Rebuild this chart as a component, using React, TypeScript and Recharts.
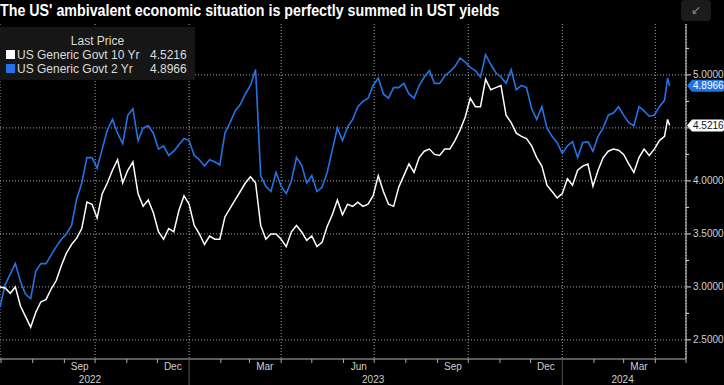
import React from 'react'
import { LineChart, Line, XAxis, YAxis, CartesianGrid, ReferenceLine, Legend } from 'recharts'

// values, roughly every 5 days
const START = '2022-06-30'
const END = '2024-05-01'

const dates = [
  '2022-06-30', '2022-07-05', '2022-07-10', '2022-07-15', '2022-07-20', '2022-07-25', '2022-07-30',
  '2022-08-04', '2022-08-09', '2022-08-14', '2022-08-19', '2022-08-24', '2022-08-29',
  '2022-09-03', '2022-09-08', '2022-09-13', '2022-09-18', '2022-09-23', '2022-09-28',
  '2022-10-03', '2022-10-08', '2022-10-13', '2022-10-18', '2022-10-23', '2022-10-28',
  '2022-11-02', '2022-11-07', '2022-11-12', '2022-11-17', '2022-11-22', '2022-11-27',
  '2022-12-02', '2022-12-07', '2022-12-12', '2022-12-17', '2022-12-22', '2022-12-27',
  '2023-01-01', '2023-01-06', '2023-01-11', '2023-01-16', '2023-01-21', '2023-01-26', '2023-01-31',
  '2023-02-05', '2023-02-10', '2023-02-15', '2023-02-20', '2023-02-25',
  '2023-03-02', '2023-03-07', '2023-03-12', '2023-03-17', '2023-03-22', '2023-03-27',
  '2023-04-01', '2023-04-06', '2023-04-11', '2023-04-16', '2023-04-21', '2023-04-26',
  '2023-05-01', '2023-05-06', '2023-05-11', '2023-05-16', '2023-05-21', '2023-05-26', '2023-05-31',
  '2023-06-05', '2023-06-10', '2023-06-15', '2023-06-20', '2023-06-25', '2023-06-30',
  '2023-07-05', '2023-07-10', '2023-07-15', '2023-07-20', '2023-07-25', '2023-07-30',
  '2023-08-04', '2023-08-09', '2023-08-14', '2023-08-19', '2023-08-24', '2023-08-29',
  '2023-09-03', '2023-09-08', '2023-09-13', '2023-09-18', '2023-09-23', '2023-09-28',
  '2023-10-03', '2023-10-08', '2023-10-13', '2023-10-18', '2023-10-23', '2023-10-28',
  '2023-11-02', '2023-11-07', '2023-11-12', '2023-11-17', '2023-11-22', '2023-11-27',
  '2023-12-02', '2023-12-07', '2023-12-12', '2023-12-17', '2023-12-22', '2023-12-27',
  '2024-01-01', '2024-01-06', '2024-01-11', '2024-01-16', '2024-01-21', '2024-01-26', '2024-01-31',
  '2024-02-05', '2024-02-10', '2024-02-15', '2024-02-20', '2024-02-25',
  '2024-03-01', '2024-03-06', '2024-03-11', '2024-03-16', '2024-03-21', '2024-03-26', '2024-03-31',
  '2024-04-05', '2024-04-10', '2024-04-13', '2024-04-15',
]

// US Generic Govt 10 Yr
const tenYear = [
  3.00, 2.99, 2.94, 3.00, 2.82, 2.72, 2.62,
  2.76, 2.86, 2.88, 2.98, 3.06, 3.20,
  3.32, 3.40, 3.46, 3.55, 3.80, 3.78,
  3.65, 3.88, 3.98, 4.10, 4.20, 3.98,
  4.10, 4.18, 3.88, 3.76, 3.82, 3.70,
  3.52, 3.45, 3.55, 3.52, 3.72, 3.86,
  3.78, 3.58, 3.50, 3.40, 3.48, 3.45, 3.45,
  3.66, 3.74, 3.82, 3.90, 3.98,
  4.04, 3.98, 3.58, 3.45, 3.50, 3.50,
  3.45, 3.38, 3.52, 3.58, 3.52, 3.44,
  3.48, 3.38, 3.42, 3.57, 3.68, 3.82, 3.68,
  3.78, 3.76, 3.80, 3.76, 3.78, 3.86,
  4.05, 3.90, 3.78, 3.76, 3.94, 4.05,
  4.16, 4.08, 4.22, 4.28, 4.30, 4.25,
  4.24, 4.30, 4.30, 4.38, 4.48, 4.60,
  4.78, 4.70, 4.70, 4.96, 4.86, 4.88,
  4.90, 4.62, 4.55, 4.45, 4.42, 4.40,
  4.33, 4.22, 4.14, 3.96, 3.90, 3.84,
  3.88, 4.02, 3.96, 4.10, 4.14, 4.16, 3.95,
  4.10, 4.22, 4.28, 4.30, 4.29,
  4.25, 4.16, 4.08, 4.22, 4.30, 4.24, 4.30,
  4.38, 4.42, 4.58, 4.5216,
]

// US Generic Govt 2 Yr
const twoYear = [
  2.81, 3.02, 3.12, 3.22, 3.05, 2.93, 2.89,
  3.15, 3.22, 3.22, 3.30, 3.38, 3.45,
  3.50, 3.58, 3.83, 3.98, 4.22, 4.22,
  4.12, 4.30, 4.48, 4.58, 4.45, 4.35,
  4.62, 4.68, 4.38, 4.50, 4.52, 4.45,
  4.30, 4.33, 4.24, 4.28, 4.34, 4.40,
  4.38, 4.24, 4.20, 4.14, 4.20, 4.18, 4.15,
  4.45, 4.55, 4.66, 4.72, 4.82,
  4.90, 5.05, 4.05, 3.95, 3.90, 4.08,
  3.95, 3.88, 4.00, 4.22, 4.15, 3.98,
  4.05, 3.90, 3.94, 4.08, 4.29, 4.50, 4.38,
  4.51, 4.58, 4.70, 4.75, 4.78, 4.90,
  4.97, 4.82, 4.78, 4.88, 4.88, 4.92,
  4.82, 4.78, 4.90, 4.98, 5.04, 4.92,
  4.92, 4.99, 5.03, 5.08, 5.16, 5.12,
  5.07, 5.04, 4.98, 5.19, 5.10, 5.02,
  4.98, 4.92, 5.05, 4.86, 4.90, 4.88,
  4.68, 4.58, 4.70, 4.50, 4.42, 4.36,
  4.26, 4.33, 4.37, 4.22, 4.36, 4.37, 4.28,
  4.42, 4.50, 4.62, 4.64, 4.70,
  4.62, 4.55, 4.52, 4.70, 4.66, 4.61, 4.62,
  4.70, 4.76, 4.97, 4.8966,
]

const LAST_10Y = 4.5216
const LAST_2Y = 4.8966

const yMajorTicks = [2.5, 3, 3.5, 4, 4.5, 5]
const yAllTicks = [2.5, 2.75, 3, 3.25, 3.5, 3.75, 4, 4.25, 4.5, 4.75, 5, 5.25]
const yHiddenLabels = [4.5] // sits under the 10Y last-price badge
const quarterStarts = ['2022-10-01', '2023-01-01', '2023-04-01', '2023-07-01', '2023-10-01', '2024-01-01', '2024-04-01']
const yearStarts = ['2023-01-01', '2024-01-01']
const monthLabels = ['Sep', 'Dec', 'Mar', 'Jun', 'Sep', 'Dec', 'Mar']
const monthLabelDates = ['2022-09-16', '2022-12-16', '2023-03-16', '2023-06-16', '2023-09-16', '2023-12-16', '2024-03-16']
const yearLabels = ['2022', '2023', '2024']
const yearLabelDates = ['2022-09-26', '2023-06-30', '2024-02-29']

const DAY = 86400000
const dayOf = (s: string) => (Date.parse(s) - Date.parse(START)) / DAY
const END_DAY = dayOf(END)
const Y_DOMAIN = [2.32, 5.48]

const data = dates.map((d, i) => ({ t: dayOf(d), ten: tenYear[i], two: twoYear[i] }))

// first of every month -> small tick marks on the time axis
const monthStarts: number[] = []
for (let i = 0; i < 23; i++) {
  monthStarts.push((Date.UTC(2022, 6 + i, 1) - Date.parse(START)) / DAY)
}
const yearStartDays = yearStarts.map(dayOf)
const quarterDays = quarterStarts.map(dayOf)
const monthLabelDays = monthLabelDates.map(dayOf)
const yearLabelDays = yearLabelDates.map(dayOf)
const xTicks = [...monthStarts, ...monthLabelDays, ...yearLabelDays].sort((a, b) => a - b)

const BLUE = '#2274e6'
const GRID = '#a8a8a8'
const AXIS_TEXT = '#cfcfcf'

// one bottom axis: month tick marks, year separators, month and year labels
const TimeTick = (props: any) => {
  const { x, y, payload } = props
  const v = payload.value
  const mi = monthLabelDays.indexOf(v)
  const yi = yearLabelDays.indexOf(v)
  if (mi >= 0) {
    return <text x={x} y={y + 11} textAnchor="middle" fill={AXIS_TEXT} fontSize={10}>{monthLabels[mi]}</text>
  }
  if (yi >= 0) {
    return <text x={x} y={y + 24} textAnchor="middle" fill={AXIS_TEXT} fontSize={10}>{yearLabels[yi]}</text>
  }
  const isYear = yearStartDays.includes(v)
  return <line x1={x} x2={x} y1={y} y2={y + (isYear ? 26 : 4)} stroke={isYear ? '#555' : '#aaa'} />
}

const YTick = (props: any) => {
  const { x, y, payload } = props
  const ax = x - 7
  const major = yMajorTicks.includes(payload.value)
  const showLabel = major && !yHiddenLabels.includes(payload.value)
  return (
    <g>
      <line x1={ax} x2={ax + (major ? 5 : 3)} y1={y} y2={y} stroke="#ddd" />
      {showLabel && (
        <text x={x} y={y} dy={3.5} fill="#d2d2d2" fontSize={10}>
          {payload.value.toFixed(4)}
        </text>
      )}
    </g>
  )
}

// horizontal grid at the labelled half-points: use the axis scale when the grid
// hands it over, otherwise map the same value domain onto the plot offset
const majorRows = (args: any) => {
  const yAxis = args && args.yAxis
  const s = yAxis && yAxis.scale
  if (typeof s === 'function') {
    const out = yMajorTicks.map((v) => s(v))
    if (out.every((p) => Number.isFinite(p))) return out
  }
  const off = (args && args.offset) || { top: 24, height: 335 }
  const top = off.top ?? 24
  const h = off.height ?? 335
  return yMajorTicks.map((v) => top + ((Y_DOMAIN[1] - v) / (Y_DOMAIN[1] - Y_DOMAIN[0])) * h)
}

const badge = (bg: string, fg: string, value: number) => (props: any) => {
  const { viewBox } = props
  const x = viewBox.x + viewBox.width + 1
  const y = viewBox.y
  return (
    <g>
      <path
        d={`M${x} ${y} L${x + 5} ${y - 6} L${x + 35} ${y - 6} Q${x + 37} ${y - 6} ${x + 37} ${y - 4} L${x + 37} ${y + 4} Q${x + 37} ${y + 6} ${x + 35} ${y + 6} L${x + 5} ${y + 6} Z`}
        fill={bg}
      />
      <text x={x + 6} y={y + 3.5} fill={fg} fontSize={10}>{value.toFixed(4)}</text>
    </g>
  )
}

const LegendBox = () => (
  <div style={{ position: 'relative', width: 195, height: 53, background: '#161616', color: '#dcdcdc', fontSize: 12, lineHeight: '14px' }}>
    <div style={{ position: 'absolute', top: 7, left: 0, width: 195, textAlign: 'center' }}>Last Price</div>
    <div style={{ position: 'absolute', top: 23, left: 6, width: 9, height: 9, background: '#fff' }} />
    <div style={{ position: 'absolute', top: 21, left: 17 }}>US Generic Govt 10 Yr</div>
    <div style={{ position: 'absolute', top: 21, left: 150 }}>{LAST_10Y.toFixed(4)}</div>
    <div style={{ position: 'absolute', top: 37, left: 6, width: 9, height: 9, background: BLUE }} />
    <div style={{ position: 'absolute', top: 35, left: 17 }}>US Generic Govt 2 Yr</div>
    <div style={{ position: 'absolute', top: 35, left: 150 }}>{LAST_2Y.toFixed(4)}</div>
  </div>
)

export default function App() {
  return (
    <div style={{ position: 'relative', width: 724, height: 385, background: '#000', fontFamily: '"Liberation Sans", Arial, sans-serif', overflow: 'hidden' }}>
      <style>{'body{margin:0;background:#000}'}</style>
      <div style={{ position: 'absolute', top: 2, left: 0, whiteSpace: 'nowrap', color: '#fff', fontWeight: 'bold', fontSize: 16, lineHeight: '18px', transform: 'scaleX(0.89)', transformOrigin: 'left' }}>
        The US' ambivalent economic situation is perfectly summed in UST yields
      </div>
      <div style={{ position: 'absolute', top: 0, left: 681, width: 30, height: 21, background: '#1b1b1b', borderRadius: 4, color: '#8a8a8a', fontSize: 12, textAlign: 'center', lineHeight: '21px' }}>
        ↙
      </div>
      <LineChart width={724} height={385} data={data} margin={{ top: 24, right: 0, bottom: 0, left: 0 }}>
        <XAxis
          xAxisId="a" dataKey="t" type="number" domain={[0, END_DAY]} allowDataOverflow
          ticks={xTicks} interval={0} height={26} tickSize={0} tickMargin={0}
          tickLine={false} axisLine={{ stroke: '#b5b5b5' }} tick={<TimeTick />}
        />
        {/* hidden axis only feeds the vertical dotted grid at quarter starts */}
        <XAxis
          xAxisId="q" dataKey="t" type="number" domain={[0, END_DAY]} allowDataOverflow
          ticks={quarterDays} interval={0} height={0} hide
        />
        <YAxis
          yAxisId="v" orientation="right" type="number" domain={Y_DOMAIN} allowDataOverflow
          ticks={yAllTicks} interval={0} width={38} tickSize={5} tickMargin={2}
          tickLine={false} axisLine={{ stroke: '#e0e0e0' }} tick={<YTick />}
        />
        <CartesianGrid xAxisId="q" yAxisId="v" horizontal={false} stroke={GRID} strokeDasharray="1 2" />
        <CartesianGrid
          xAxisId="q" yAxisId="v" vertical={false}
          horizontalCoordinatesGenerator={majorRows}
          stroke={GRID} strokeDasharray="1 2"
        />

        <Line xAxisId="a" yAxisId="v" type="linear" dataKey="two" stroke={BLUE} strokeWidth={1.6} dot={false} isAnimationActive={false} />
        <Line xAxisId="a" yAxisId="v" type="linear" dataKey="ten" stroke="#ffffff" strokeWidth={1.5} dot={false} isAnimationActive={false} />

        <ReferenceLine xAxisId="a" yAxisId="v" y={LAST_2Y} stroke="none" label={badge(BLUE, '#fff', LAST_2Y)} />
        <ReferenceLine xAxisId="a" yAxisId="v" y={LAST_10Y} stroke="none" label={badge('#fff', '#111', LAST_10Y)} />

        <Legend
          layout="vertical" align="center" verticalAlign="middle"
          wrapperStyle={{ position: 'absolute', top: 27, left: 0, width: 195, height: 53 }}
          content={() => <LegendBox />}
        />
      </LineChart>
    </div>
  )
}
